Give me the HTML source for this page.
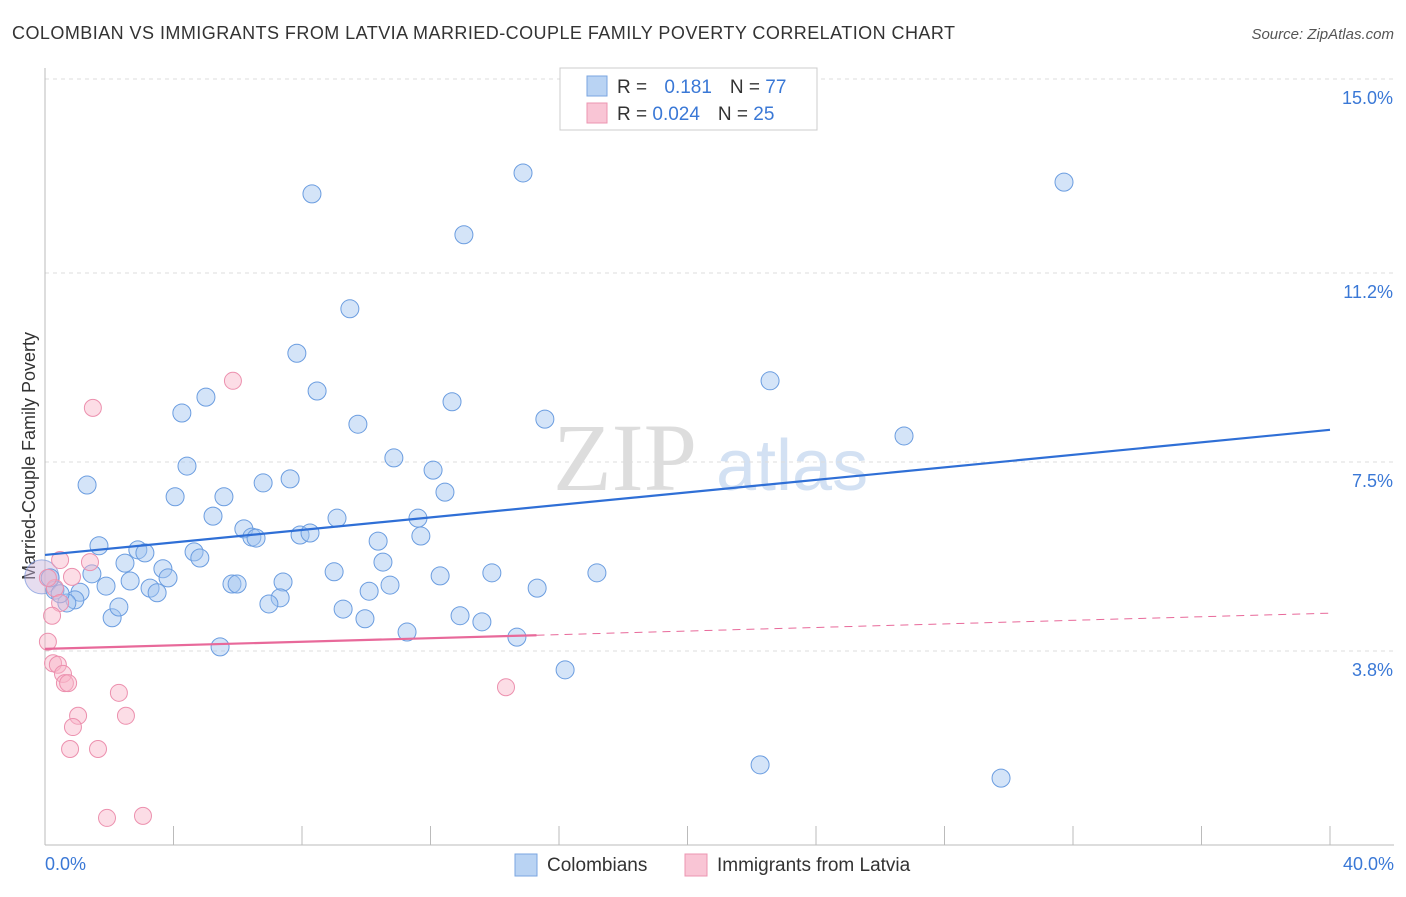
<!DOCTYPE html>
<html><head><meta charset="utf-8"><style>
body{margin:0;background:#fff;font-family:"Liberation Sans",sans-serif;}
</style></head><body>
<svg id="chart" width="1406" height="892" xmlns="http://www.w3.org/2000/svg" style="font-family:'Liberation Sans',sans-serif">
<text x="12" y="39" font-size="18" fill="#333" textLength="943" lengthAdjust="spacing">COLOMBIAN VS IMMIGRANTS FROM LATVIA MARRIED-COUPLE FAMILY POVERTY CORRELATION CHART</text>
<text x="1394" y="39" font-size="15" fill="#555" text-anchor="end" font-style="italic">Source: ZipAtlas.com</text>
<text x="553" y="490" font-size="96" fill="#ddd" font-family="Liberation Serif">ZIP</text>
<text x="716" y="490" font-size="72" fill="#d3e1f3">atlas</text>
<text transform="translate(35,456) rotate(-90)" font-size="18" fill="#333" text-anchor="middle">Married-Couple Family Poverty</text>
<g id="grid"></g><g id="axes"></g><g id="marks"></g>
<g>
<rect x="560" y="68" width="257" height="62" fill="#fff" stroke="#ccc"/>
<rect x="587" y="76" width="20" height="20" fill="#b9d3f3" stroke="#7aa6e0"/>
<rect x="587" y="103" width="20" height="20" fill="#f9c5d5" stroke="#ec95b1"/>
<text x="617" y="93" font-size="19" fill="#333">R = <tspan fill="#3a78d6" dx="12">0.181</tspan><tspan dx="18" fill="#333">N = </tspan><tspan fill="#3a78d6">77</tspan></text>
<text x="617" y="120" font-size="19" fill="#333">R = <tspan fill="#3a78d6">0.024</tspan><tspan dx="18" fill="#333">N = </tspan><tspan fill="#3a78d6">25</tspan></text>
</g>
<g>
<rect x="515" y="854" width="22" height="22" fill="#b9d3f3" stroke="#7aa6e0"/>
<text x="547" y="871" font-size="19" fill="#333">Colombians</text>
<rect x="685" y="854" width="22" height="22" fill="#f9c5d5" stroke="#ec95b1"/>
<text x="717" y="871" font-size="19" fill="#333">Immigrants from Latvia</text>
</g>
</svg>
<script>
const yTicks=[3.8,7.5,11.2,15.0];
const yTickLabels=["3.8%","7.5%","11.2%","15.0%"];
const xTickLabels=["0.0%","40.0%"];
const blueX=[14.88,31.72,8.31,13.04,9.49,7.84,22.57,8.47,5.01,4.26,12.67,15.56,9.74,26.74,10.86,4.42,12.08,1.31,4.05,6.79,7.63,12.45,5.57,5.23,9.09,11.61,6.19,6.44,6.57,7.94,8.25,10.37,11.70,1.68,2.89,3.11,4.64,4.82,2.49,10.52,1.46,3.67,3.83,9.00,13.91,17.18,12.30,2.65,5.82,5.98,7.41,1.90,3.27,3.49,10.74,10.09,15.32,1.09,0.93,0.68,0.31,7.32,6.97,9.28,9.96,2.09,12.92,13.60,11.27,14.69,5.45,16.19,22.26,29.76,0.47,2.30,0.16];
const blueY=[13.16,12.98,12.75,11.95,10.50,9.63,9.09,8.89,8.77,8.46,8.68,8.34,8.24,8.01,7.58,7.42,7.34,7.05,6.82,7.09,7.17,6.91,6.82,6.44,6.40,6.40,6.19,6.03,6.01,6.07,6.11,5.95,6.05,5.86,5.78,5.72,5.74,5.62,5.52,5.54,5.31,5.41,5.23,5.35,5.33,5.33,5.27,5.17,5.11,5.11,5.15,5.07,5.03,4.94,5.09,4.97,5.03,4.95,4.80,4.74,4.99,4.84,4.72,4.62,4.43,4.45,4.49,4.37,4.17,4.07,3.88,3.43,1.57,1.31,4.92,4.66,5.23];
const pinkX=[5.85,1.49,0.47,1.40,0.84,0.31,0.47,0.22,0.09,0.25,0.40,0.56,0.62,0.72,14.35,2.30,1.03,2.52,0.87,0.78,1.65,1.93,3.05,0.09];
const pinkY=[9.09,8.56,5.58,5.54,5.25,5.03,4.74,4.49,3.98,3.56,3.53,3.35,3.17,3.17,3.09,2.98,2.53,2.53,2.31,1.88,1.88,0.53,0.57,5.23];
const blueTrend=[5.68,8.13];
const pinkTrend=[3.84,4.54];
const pinkSolidEnd=15.3;
const NS="http://www.w3.org/2000/svg";
const sx=v=>45+v*(1285/40);
const sy=v=>845-v*(766/15);
function mk(tag,attrs,parent){const e=document.createElementNS(NS,tag);for(const k in attrs)e.setAttribute(k,attrs[k]);document.getElementById(parent).appendChild(e);return e;}
yTicks.forEach((t,i)=>{
 const g=mk('line',{x1:45,x2:1394,y1:sy(t),y2:sy(t),stroke:'#ddd','stroke-dasharray':'4,4'},'grid');
 
 
 const l=mk('text',{x:1393,y:sy(t)+25,'font-size':18,fill:'#3a78d6','text-anchor':'end'},'axes');
 l.textContent=yTickLabels[i];
 
 
});
const ax=mk('line',{x1:45,x2:45,y1:68,y2:845,stroke:'#bbb'},'axes');


const bx=mk('line',{x1:45,x2:1394,y1:845,y2:845,stroke:'#bbb'},'axes');


for(let i=0;i<=10;i++){
 const t=mk('line',{x1:sx(i*4),x2:sx(i*4),y1:826,y2:845,stroke:'#bbb'},'axes');
 
 
}
[[0,xTickLabels[0],'start',45],[40,xTickLabels[1],'end',1394]].forEach(a=>{
 const l=mk('text',{x:a[3],y:870,'font-size':18,fill:'#3a78d6','text-anchor':a[2]},'axes');
 l.textContent=a[1];
 
 
});
const big1=mk('circle',{cx:sx(-0.1),cy:sy(5.25),r:17,fill:'rgba(200,180,220,0.45)',stroke:'rgba(120,150,220,0.7)'},'marks');


blueX.forEach((x,i)=>{
 const c=mk('circle',{cx:sx(x),cy:sy(blueY[i]),r:9,fill:'rgba(160,196,240,0.45)',stroke:'#6b9de0','stroke-width':1},'marks');
 
 
});
pinkX.forEach((x,i)=>{
 const c=mk('circle',{cx:sx(x),cy:sy(pinkY[i]),r:8.5,fill:'rgba(248,180,200,0.45)',stroke:'#ec90ae','stroke-width':1},'marks');
 
 
});
const bl=mk('line',{x1:sx(0),y1:sy(blueTrend[0]),x2:sx(40),y2:sy(blueTrend[1]),stroke:'#2f6fd6','stroke-width':2.2},'marks');


const pAt=x=>pinkTrend[0]+(pinkTrend[1]-pinkTrend[0])*x/40;
const pl=mk('line',{x1:sx(0),y1:sy(pinkTrend[0]),x2:sx(pinkSolidEnd),y2:sy(pAt(pinkSolidEnd)),stroke:'#e8699a','stroke-width':2.2},'marks');


const pd=mk('line',{x1:sx(pinkSolidEnd),y1:sy(pAt(pinkSolidEnd)),x2:sx(40),y2:sy(pinkTrend[1]),stroke:'#e8699a','stroke-width':1,'stroke-dasharray':'8,6'},'marks');


</script>
</body></html>
